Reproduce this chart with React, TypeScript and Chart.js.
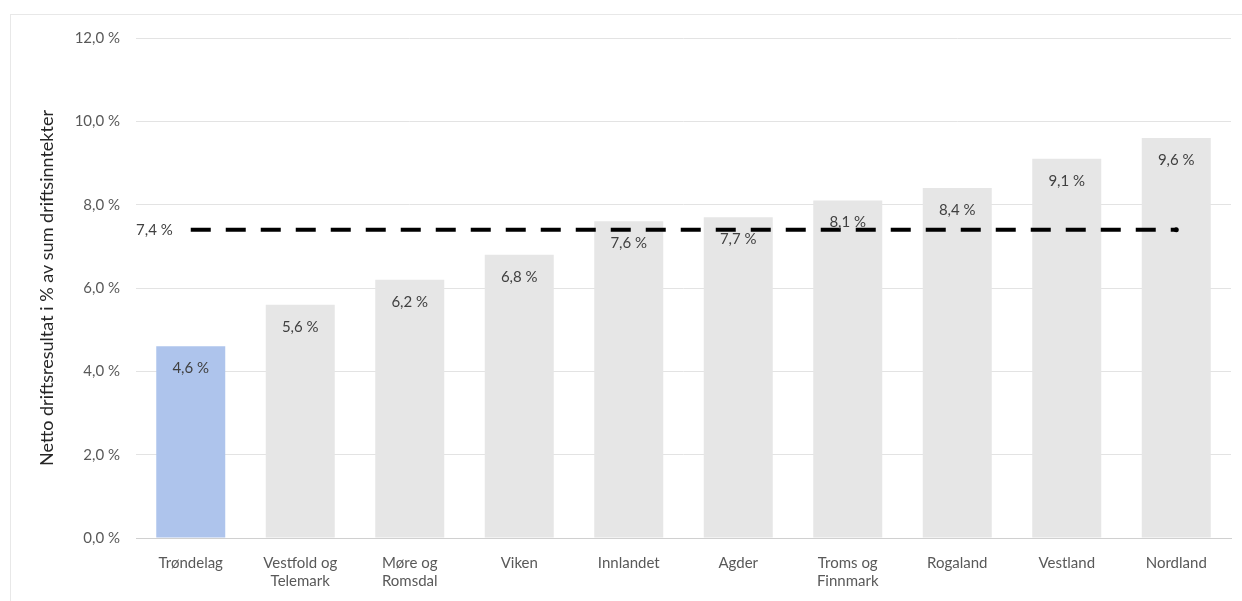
import React, { useEffect, useRef } from "react";
import { Chart, registerables } from "chart.js";

Chart.register(...registerables);

const categories: (string | string[])[] = [
  "Trøndelag",
  ["Vestfold og", "Telemark"],
  ["Møre og", "Romsdal"],
  "Viken",
  "Innlandet",
  "Agder",
  ["Troms og", "Finnmark"],
  "Rogaland",
  "Vestland",
  "Nordland",
];
const values = [4.6, 5.6, 6.2, 6.8, 7.6, 7.7, 8.1, 8.4, 9.1, 9.6];
const average = 7.4;
const averageLine = categories.map(() => average);
const yTicks = [0, 2, 4, 6, 8, 10, 12];
const yTitle = "Netto driftsresultat i % av sum driftsinntekter";

const fmt = (v: number) => v.toFixed(1).replace(".", ",") + " %";
const FONT = "Lato, 'Open Sans', sans-serif";

const labelPlugin = {
  id: "valueLabels",
  afterDatasetsDraw(chart: any) {
    const ctx = chart.ctx;
    ctx.save();
    ctx.font = `15px ${FONT}`;
    ctx.fillStyle = "#404040";
    ctx.textBaseline = "middle";
    const barMeta = chart.getDatasetMeta(0);
    barMeta.data.forEach((el: any, i: number) => {
      ctx.textAlign = "center";
      ctx.fillText(fmt(values[i]), el.x, el.y + 22);
    });
    const lineMeta = chart.getDatasetMeta(1);
    const p0 = lineMeta.data[0];
    ctx.textAlign = "right";
    ctx.fillText(fmt(average), p0.x - 18, p0.y);
    ctx.restore();
  },
};

export default function App() {
  const ref = useRef<HTMLCanvasElement>(null);
  useEffect(() => {
    if (!ref.current) return;
    const chart = new Chart(ref.current, {
      type: "bar",
      data: {
        labels: categories as any,
        datasets: [
          {
            type: "bar",
            data: values,
            backgroundColor: values.map((_, i) => (i === 0 ? "#aec4ec" : "#e6e6e6")),
            categoryPercentage: 1,
            barPercentage: 0.63,
            order: 2,
          },
          {
            type: "line",
            data: averageLine,
            borderColor: "#000000",
            borderWidth: 4,
            borderDash: [20, 15],
            pointRadius: averageLine.map((_, i) => (i === averageLine.length - 1 ? 2.5 : 0)),
            pointBackgroundColor: "#000000",
            pointBorderWidth: 0,
            fill: false,
            order: 1,
          } as any,
        ],
      },
      options: {
        animation: false,
        responsive: false,
        maintainAspectRatio: false,
        layout: { padding: { left: 36, right: 11, top: 38, bottom: 2 } },
        plugins: { legend: { display: false }, tooltip: { enabled: false } },
        scales: {
          x: {
            grid: { display: false, drawTicks: false },
            border: { color: "#d0d0d0", width: 1 },
            afterFit: (scale: any) => {
              scale.height = 61;
            },
            ticks: {
              color: "#595959",
              font: { family: FONT, size: 15 },
              padding: 16,
              maxRotation: 0,
              autoSkip: false,
            },
          },
          y: {
            min: 0,
            max: 12,
            afterBuildTicks: (scale: any) => {
              scale.ticks = yTicks.map((v) => ({ value: v }));
            },
            afterFit: (scale: any) => {
              scale.width = 100;
            },
            grid: { color: "#e3e3e3", drawTicks: false },
            border: { display: false },
            ticks: {
              color: "#595959",
              font: { family: FONT, size: 15 },
              padding: 16,
              callback: (v: any) => fmt(Number(v)),
            },
            title: {
              display: true,
              text: yTitle,
              color: "#262626",
              font: { family: FONT, size: 18 },
              padding: { top: 0, bottom: 0 },
            },
          },
        },
      },
      plugins: [labelPlugin],
    });
    return () => chart.destroy();
  }, []);
  return (
    <div style={{ position: "fixed", left: 0, top: 0, width: 1242, height: 601, background: "#fff" }}>
      <div
        style={{
          position: "absolute",
          left: 10,
          top: 14,
          width: 1240,
          height: 600,
          border: "1px solid #e8e8e8",
          boxSizing: "border-box",
        }}
      />
      <canvas ref={ref} width={1242} height={601} style={{ position: "absolute", left: 0, top: 0 }} />
    </div>
  );
}
